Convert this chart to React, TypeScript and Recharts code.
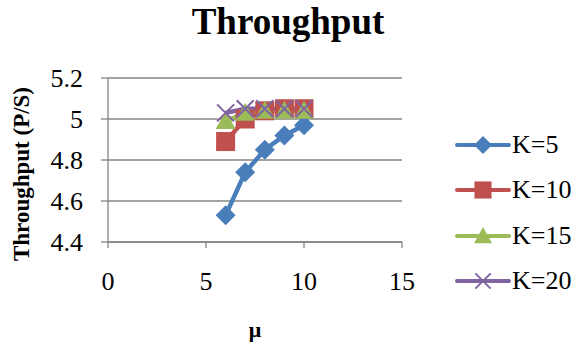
import React from "react";
import { LineChart, Line, XAxis, YAxis, CartesianGrid } from "recharts";

// μ values shared by every series
const mu = [6, 7, 8, 9, 10];

// Throughput (P/S) per buffer size K
const k5 = [4.53, 4.74, 4.85, 4.92, 4.97];
const k10 = [4.89, 5.0, 5.04, 5.05, 5.05];
const k15 = [4.99, 5.03, 5.04, 5.04, 5.04];
const k20 = [5.03, 5.05, 5.05, 5.05, 5.05];

const xTicks = [0, 5, 10, 15];
const yTicks = [4.4, 4.6, 4.8, 5.0, 5.2];

const seriesNames = ["K=5", "K=10", "K=15", "K=20"];
const colors = ["#4A7EBB", "#C0504D", "#9BBB59", "#8064A2"];
const shapes = ["diamond", "square", "triangle", "cross"];

const data = mu.map((m, i) => ({
  mu: m,
  k5: k5[i],
  k10: k10[i],
  k15: k15[i],
  k20: k20[i],
}));

const FONT = "'Liberation Serif', 'Times New Roman', serif";
const TICK_SIZE = 26;

function Marker({ kind, cx, cy, color, s = 1 }: { kind: string; cx: number; cy: number; color: string; s?: number }) {
  if (kind === "diamond") {
    const r = 10 * s;
    return <polygon points={`${cx},${cy - r} ${cx + r},${cy} ${cx},${cy + r} ${cx - r},${cy}`} fill={color} />;
  }
  if (kind === "square") {
    const r = 9.5 * s;
    return <rect x={cx - r} y={cy - r} width={2 * r} height={2 * r} fill={color} />;
  }
  if (kind === "triangle") {
    const r = 10 * s;
    return <polygon points={`${cx},${cy - r} ${cx + r},${cy + r * 0.8} ${cx - r},${cy + r * 0.8}`} fill={color} />;
  }
  const r = 8.5 * s;
  return (
    <g stroke={color} strokeWidth={2}>
      <line x1={cx - r} y1={cy - r} x2={cx + r} y2={cy + r} />
      <line x1={cx - r} y1={cy + r} x2={cx + r} y2={cy - r} />
    </g>
  );
}

const makeDot = (i: number) => (props: any) => {
  const { cx, cy, index } = props;
  if (cx == null || cy == null) return <g key={index} />;
  return <Marker key={index} kind={shapes[i]} cx={cx} cy={cy} color={colors[i]} />;
};

const XTick = (props: any) => {
  const { x, y, payload } = props;
  return (
    <text x={x} y={y + 40} textAnchor="middle" fontFamily={FONT} fontSize={TICK_SIZE} fill="#000">
      {payload.value}
    </text>
  );
};

const YTick = (props: any) => {
  const { x, y, payload } = props;
  return (
    <text x={x - 16} y={y + 9} textAnchor="end" fontFamily={FONT} fontSize={TICK_SIZE} fill="#000">
      {String(Number(Number(payload.value).toFixed(1)))}
    </text>
  );
};

const LegendBox = () => (
  <div style={{ position: "absolute", left: 455, top: 122, fontFamily: FONT, fontSize: 26, color: "#000" }}>
    {seriesNames.map((n, i) => (
      <div key={n} style={{ display: "flex", alignItems: "center", height: 45.5 }}>
        <svg width={56} height={24} style={{ display: "block" }}>
          <line x1={2} y1={12} x2={54} y2={12} stroke={colors[i]} strokeWidth={4} strokeLinecap="round" />
          <Marker kind={shapes[i]} cx={28} cy={12} color={colors[i]} s={0.9} />
        </svg>
        <span style={{ marginLeft: 1 }}>{n}</span>
      </div>
    ))}
  </div>
);

const keys = ["k5", "k10", "k15", "k20"];

export default function App() {
  return (
    <div style={{ position: "absolute", left: 0, top: 0, width: 576, height: 352, background: "#fff" }}>
      <LineChart
        width={576}
        height={352}
        data={data}
        margin={{ top: 78, right: 174, bottom: 70, left: 48 }}
      >
        <CartesianGrid horizontal vertical={false} stroke="#868686" strokeWidth={1.3} />
        <XAxis
          dataKey="mu"
          type="number"
          domain={[0, 15]}
          ticks={xTicks}
          height={40}
          axisLine={{ stroke: "#868686", strokeWidth: 1.3 }}
          tickLine={{ stroke: "#868686", strokeWidth: 1.3 }}
          tickSize={6}
          tick={<XTick />}
        />
        <YAxis
          type="number"
          domain={[4.4, 5.2]}
          ticks={yTicks}
          width={60}
          axisLine={{ stroke: "#868686", strokeWidth: 1.3 }}
          tickLine={{ stroke: "#868686", strokeWidth: 1.3 }}
          tickSize={7}
          tick={<YTick />}
        />
        {keys.map((k, i) => (
          <Line
            key={k}
            dataKey={k}
            name={seriesNames[i]}
            stroke={colors[i]}
            strokeWidth={4.5}
            dot={makeDot(i)}
            activeDot={false}
            isAnimationActive={false}
          />
        ))}
      </LineChart>
      <div
        style={{
          position: "absolute",
          left: 0,
          top: 0,
          width: 576,
          textAlign: "center",
          fontFamily: FONT,
          fontWeight: "bold",
          fontSize: 37,
          color: "#000",
        }}
      >
        Throughput
      </div>
      <div
        style={{
          position: "absolute",
          left: 22,
          top: 174,
          transform: "translate(-50%, -50%) rotate(-90deg)",
          whiteSpace: "nowrap",
          fontFamily: FONT,
          fontWeight: "bold",
          fontSize: 23,
          color: "#000",
        }}
      >
        Throughput (P/S)
      </div>
      <div
        style={{
          position: "absolute",
          left: 255,
          top: 330,
          transform: "translate(-50%, -50%)",
          fontFamily: FONT,
          fontWeight: "bold",
          fontSize: 22,
          color: "#000",
        }}
      >
        μ
      </div>
      <LegendBox />
    </div>
  );
}
